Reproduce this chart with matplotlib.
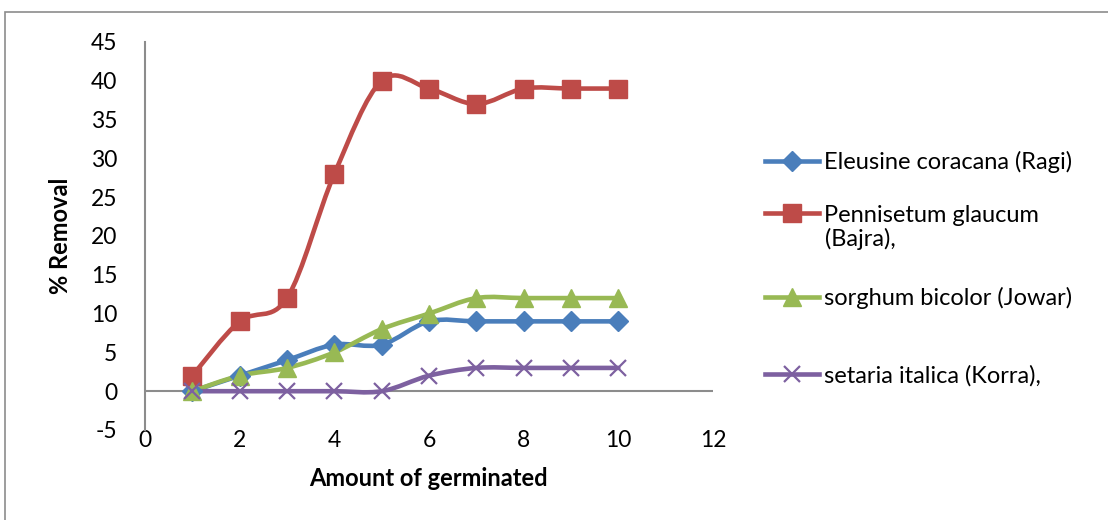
import numpy as np
import matplotlib
matplotlib.use("Agg")
import matplotlib.pyplot as plt
from matplotlib.path import Path
from matplotlib.patches import PathPatch, Rectangle
from matplotlib.lines import Line2D

plt.rcParams['font.family'] = ['Lato', 'DejaVu Sans']
plt.rcParams['axes.unicode_minus'] = False

amount = [1, 2, 3, 4, 5, 6, 7, 8, 9, 10]
ragi = [0, 2, 4, 6, 6, 9, 9, 9, 9, 9]
bajra = [2, 9, 12, 28, 40, 39, 37, 39, 39, 39]
jowar = [0, 2, 3, 5, 8, 10, 12, 12, 12, 12]
korra = [0, 0, 0, 0, 0, 2, 3, 3, 3, 3]

names = ['Eleusine coracana (Ragi)', 'Pennisetum glaucum',
         'sorghum bicolor (Jowar)', 'setaria italica (Korra),']
colors = ['#4A7EBB', '#BE4B48', '#98B954', '#7D60A0']
markers = ['D', 's', '^', 'x']
msizes = [10.5, 13, 13, 12]
# legend rows (figure fraction, from the top of the image)
legend_y = [1 - 162 / 520, 1 - 215 / 520, 1 - 298 / 520, 1 - 376 / 520]


def smooth_path(xs, ys):
    # Excel-style smoothed line: cubic bezier with catmull-rom control points
    pts = np.column_stack([xs, ys]).astype(float)
    verts = [pts[0]]
    codes = [Path.MOVETO]
    n = len(pts)
    for i in range(n - 1):
        p0 = pts[max(i - 1, 0)]
        p1 = pts[i]
        p2 = pts[i + 1]
        p3 = pts[min(i + 2, n - 1)]
        verts += [p1 + (p2 - p0) / 6, p2 - (p3 - p1) / 6, p2]
        codes += [Path.CURVE4] * 3
    return Path(verts, codes)


fig = plt.figure(figsize=(11.08, 5.2), dpi=100)
fig.patches.append(Rectangle((5 / 1108, -0.1), 1.2, 1.1 - 12 / 520,
                             transform=fig.transFigure, fill=False,
                             edgecolor='#8c8c8c', lw=1.2))
ax = fig.add_axes([145 / 1108, 1 - 430 / 520, (713 - 145) / 1108, (430 - 42) / 520])

series = [ragi, bajra, jowar, korra]
for ys, name, c, m, ms, ly in zip(series, names, colors, markers, msizes, legend_y):
    ax.add_patch(PathPatch(smooth_path(amount, ys), fill=False, edgecolor=c,
                           lw=3.3, capstyle='round', joinstyle='round', zorder=3))
    mew = 1.6 if m == 'x' else 1
    ax.plot(amount, ys, linestyle='none', marker=m, ms=ms, mew=mew,
            color=c, mec=c, zorder=4)
    h = Line2D([], [], color=c, lw=3.3, marker=m, ms=ms, mew=mew, mec=c)
    fig.legend(handles=[h], labels=[name], loc='center left',
               bbox_to_anchor=(765 / 1108, ly), frameon=False, fontsize=17,
               handlelength=2.3, handletextpad=0.2, borderpad=0,
               borderaxespad=0)

fig.text(825 / 1108, 1 - 239 / 520, '(Bajra),', fontsize=17, va='center', ha='left')

ax.set_xlim(0, 12)
ax.set_ylim(-5, 45)
ax.set_xticks(range(0, 13, 2))
ax.set_yticks(range(-5, 46, 5))
ax.tick_params(length=0, labelsize=16.5, colors='black')
ax.tick_params(axis='y', pad=20)
ax.tick_params(axis='x', pad=0)
for s in ['top', 'right', 'bottom']:
    ax.spines[s].set_visible(False)
ax.spines['left'].set_color('#8c8c8c')
ax.spines['left'].set_linewidth(1.5)
ax.axhline(0, color='#8c8c8c', lw=1.5, zorder=2)

ax.set_xlabel('Amount of germinated', fontsize=17, fontweight='bold')
ax.set_ylabel('% Removal', fontsize=17, fontweight='bold')
ax.xaxis.label.set_va('center')
ax.yaxis.label.set_va('center')
ax.xaxis.set_label_coords((428 - 145) / 568, (430 - 478) / 388)
ax.yaxis.set_label_coords((60 - 145) / 568, 0.5)

fig.savefig('out.png', dpi=100)
